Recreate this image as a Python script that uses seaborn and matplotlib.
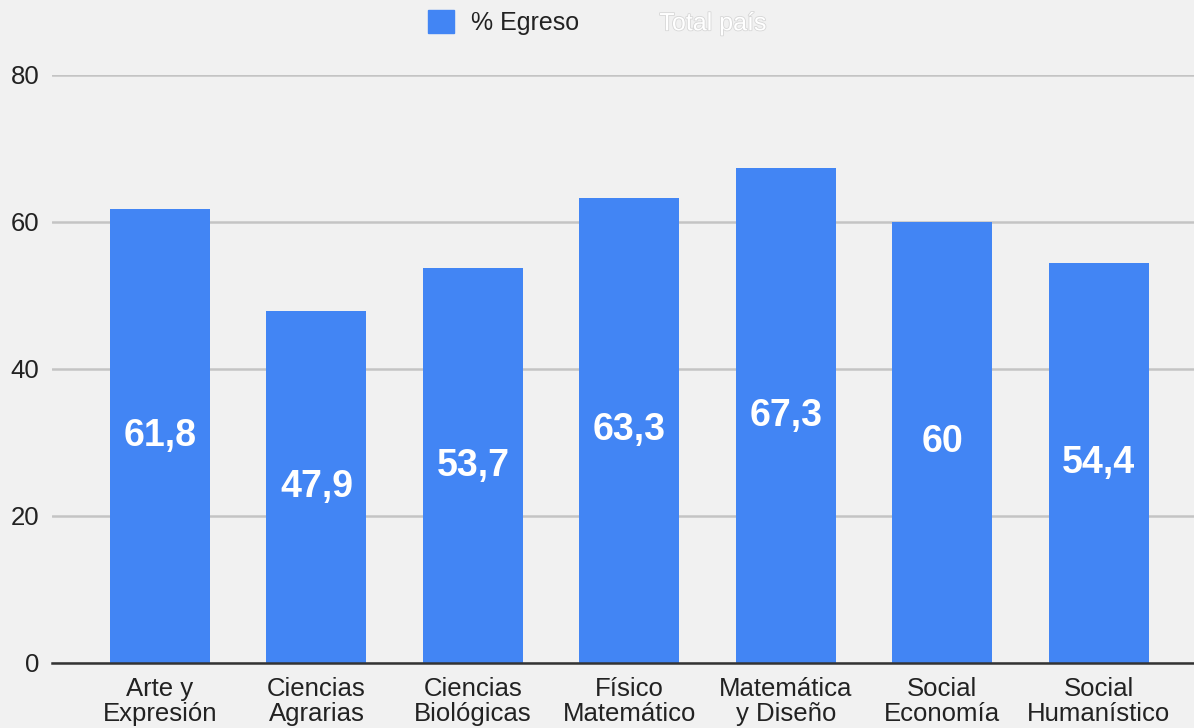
import matplotlib
matplotlib.use("Agg")
import matplotlib.pyplot as plt
import matplotlib.patheffects as pe
from matplotlib.patches import Patch
import seaborn as sns
import pandas as pd

# Data
categories = ["Arte y\nExpresión", "Ciencias\nAgrarias", "Ciencias\nBiológicas",
              "Físico\nMatemático", "Matemática\ny Diseño", "Social\nEconomía",
              "Social\nHumanístico"]
egreso = [61.8, 47.9, 53.7, 63.3, 67.3, 60, 54.4]
value_labels = ["61,8", "47,9", "53,7", "63,3", "67,3", "60", "54,4"]
yticks = [0, 20, 40, 60, 80]

df = pd.DataFrame({"area": categories, "egreso": egreso})

bg = "#f1f1f1"
blue = "#4285f4"

sns.set_theme(style="white")
plt.rcParams["font.family"] = ["Liberation Sans", "DejaVu Sans"]

fig = plt.figure(figsize=(11.94, 7.28), dpi=100, facecolor=bg)
ax = fig.add_axes([0.0436, 0.0893, 0.9564, 0.8077])
ax.set_facecolor(bg)

sns.barplot(data=df, x="area", y="egreso", color=blue, width=0.64,
            saturation=1, linewidth=0, ax=ax, zorder=3)

# value labels centred in each bar
for i, (v, lab) in enumerate(zip(egreso, value_labels)):
    ax.text(i, v / 2, lab, ha="center", va="center", color="white",
            fontsize=27, fontweight="bold", zorder=4)

ax.set_ylim(0, 80)
ax.set_xlim(-0.69, 6.61)
ax.set_yticks(yticks)
ax.yaxis.grid(True, color="#c4c4c4", linewidth=1.8, zorder=0)
ax.set_axisbelow(True)
for s in ["top", "right", "left"]:
    ax.spines[s].set_visible(False)
ax.spines["bottom"].set_color("#333333")
ax.spines["bottom"].set_linewidth(1.8)
ax.spines["bottom"].set_zorder(5)
ax.set_xlabel("")
ax.set_ylabel("")
ax.tick_params(axis="both", length=0, labelsize=18.5, labelcolor="#222222")
ax.tick_params(axis="y", pad=9)
ax.tick_params(axis="x", pad=10)
for t in ax.get_xticklabels():
    t.set_linespacing(1.08)

handles = [Patch(facecolor=blue, edgecolor=blue), Patch(alpha=0)]
leg = fig.legend(handles, ["% Egreso", "Total país"], ncol=2, loc="upper center",
                 bbox_to_anchor=(0.5, 1.01), frameon=False, fontsize=18,
                 handlelength=1.04, handleheight=1.04, handletextpad=0.68,
                 columnspacing=1.5, borderaxespad=0.3)
texts = leg.get_texts()
texts[0].set_color("#222222")
texts[1].set_color("white")
texts[1].set_path_effects([pe.withStroke(linewidth=1.2, foreground="#d6d6d6")])

fig.savefig("out.png", dpi=100, facecolor=bg)
